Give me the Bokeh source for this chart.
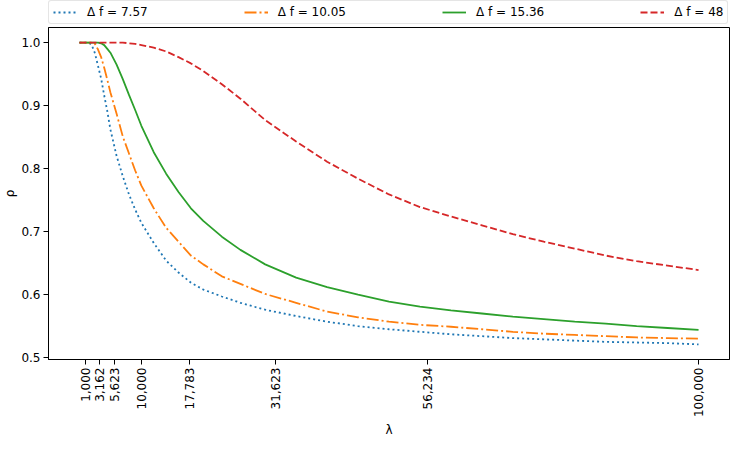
from bokeh.plotting import figure
from bokeh.models import Range1d, FixedTicker, PrintfTickFormatter, Legend, LegendItem
from bokeh.layouts import column
from bokeh.embed import file_html
from bokeh.resources import INLINE
import math

lam = [0, 1000, 1500, 2000, 2500, 3000, 3500, 4000, 4500, 5000, 6000, 7000, 8000, 9000,
       10000, 12000, 14000, 16000, 18000, 20000, 23000, 26000, 30000, 35000, 40000, 45000,
       50000, 55000, 60000, 65000, 70000, 75000, 80000, 85000, 90000, 95000, 100000]

rho_757 = [1.0, 1.0, 1.0, 0.996, 0.983, 0.963, 0.943, 0.916, 0.891, 0.862, 0.820, 0.788, 0.759, 0.735,
           0.714, 0.682, 0.654, 0.635, 0.619, 0.608, 0.597, 0.587, 0.576, 0.566, 0.557, 0.550,
           0.545, 0.541, 0.537, 0.534, 0.531, 0.529, 0.527, 0.525, 0.524, 0.523, 0.521]

rho_1005 = [1.0, 1.0, 1.0, 1.0, 0.998, 0.989, 0.977, 0.960, 0.941, 0.921, 0.887, 0.851, 0.824, 0.797,
            0.773, 0.737, 0.706, 0.684, 0.662, 0.648, 0.629, 0.617, 0.601, 0.587, 0.573, 0.564,
            0.557, 0.552, 0.549, 0.545, 0.541, 0.538, 0.536, 0.534, 0.532, 0.531, 0.530]

rho_1536 = [1.0, 1.0, 1.0, 1.0, 1.0, 1.0, 0.999, 0.996, 0.990, 0.984, 0.965, 0.942, 0.917, 0.893,
            0.868, 0.826, 0.792, 0.763, 0.737, 0.717, 0.692, 0.671, 0.648, 0.627, 0.612, 0.600,
            0.589, 0.581, 0.575, 0.570, 0.565, 0.561, 0.557, 0.554, 0.550, 0.547, 0.544]

rho_48 = [1.0, 1.0, 1.0, 1.0, 1.0, 1.0, 1.0, 1.0, 1.0, 1.0, 1.0, 1.0, 0.999, 0.998,
          0.996, 0.992, 0.986, 0.977, 0.967, 0.955, 0.934, 0.911, 0.877, 0.843, 0.811, 0.784,
          0.759, 0.739, 0.724, 0.710, 0.696, 0.684, 0.673, 0.662, 0.653, 0.646, 0.639]

labels = ["\u0394 f = 7.57", "\u0394 f = 10.05", "\u0394 f = 15.36", "\u0394 f = 48"]

x_ticks = [1000, 3162, 5623, 10000, 17783, 31623, 56234, 100000]
x_tick_labels = ["1,000", "3,162", "5,623", "10,000", "17,783", "31,623", "56,234", "100,000"]
y_ticks = [0.5, 0.6, 0.7, 0.8, 0.9, 1.0]

FONT = "DejaVu Sans"
FS = "12px"

series = [rho_757, rho_1005, rho_1536, rho_48]
colors = ["#1f77b4", "#ff7f0e", "#2ca02c", "#d62728"]
dashes = ["2 3", "12 3 2 3", "solid", "7 3"]

# ---- legend strip above the axes ----
lf = figure(width=732, height=27, x_range=Range1d(0, 1), y_range=Range1d(0, 1),
            output_backend="svg", toolbar_location=None,
            x_axis_location=None, y_axis_location=None, min_border=0)
lf.outline_line_color = None
lf.xgrid.visible = False
lf.ygrid.visible = False
lf.background_fill_color = "white"
lf.border_fill_color = "white"
leg_renderers = []
for c, d in zip(colors, dashes):
    # a single point outside the visible range: only the legend sample shows
    leg_renderers.append(lf.line(x=[5, 6], y=[5, 5], line_color=c, line_width=1.8, line_dash=d))

legend = Legend(items=[LegendItem(label=l, renderers=[r]) for l, r in zip(labels, leg_renderers)],
                orientation="horizontal", location="top_left", spacing=96, padding=4, margin=0,
                glyph_width=24, glyph_height=12, label_standoff=10, label_height=12,
                label_text_font=FONT, label_text_font_size=FS, label_text_color="black",
                border_line_color="#cccccc", border_line_width=1, border_radius=3,
                background_fill_color="white", background_fill_alpha=1.0)
lf.add_layout(legend, "center")

# ---- main axes ----
p = figure(width=732, height=413,
           x_range=Range1d(-5000, 105000), y_range=Range1d(0.497, 1.024),
           output_backend="svg", toolbar_location=None,
           min_border_left=43, min_border_right=3, min_border_top=0, min_border_bottom=78)

p.background_fill_color = "white"
p.border_fill_color = "white"
p.outline_line_color = "black"
p.outline_line_width = 1
p.xgrid.visible = False
p.ygrid.visible = False

for ys, c, d in zip(series, colors, dashes):
    p.line(lam, ys, line_color=c, line_width=1.8, line_dash=d)

for ax in (p.xaxis[0], p.yaxis[0]):
    ax.axis_line_color = "black"
    ax.major_tick_line_color = "black"
    ax.major_tick_out = 5
    ax.major_tick_in = 0
    ax.minor_tick_line_color = None
    ax.major_label_text_font = FONT
    ax.major_label_text_font_size = FS
    ax.major_label_text_color = "black"
    ax.axis_label_text_font = FONT
    ax.axis_label_text_font_size = FS
    ax.axis_label_text_font_style = "normal"
    ax.axis_label_text_color = "black"

p.xaxis.ticker = FixedTicker(ticks=x_ticks)
p.xaxis.major_label_overrides = {t: s for t, s in zip(x_ticks, x_tick_labels)}
p.xaxis.major_label_orientation = math.pi / 2
p.xaxis.major_label_standoff = 3
p.xaxis.axis_label = "\u03bb"
p.xaxis.axis_label_standoff = 3

p.yaxis.ticker = FixedTicker(ticks=y_ticks)
p.yaxis.formatter = PrintfTickFormatter(format="%.1f")
p.yaxis.major_label_standoff = 3
p.yaxis.axis_label = "\u03c1"
p.yaxis.axis_label_standoff = 1

layout = column(lf, p, spacing=0)
open("out.html", "w").write(file_html(layout, INLINE))
